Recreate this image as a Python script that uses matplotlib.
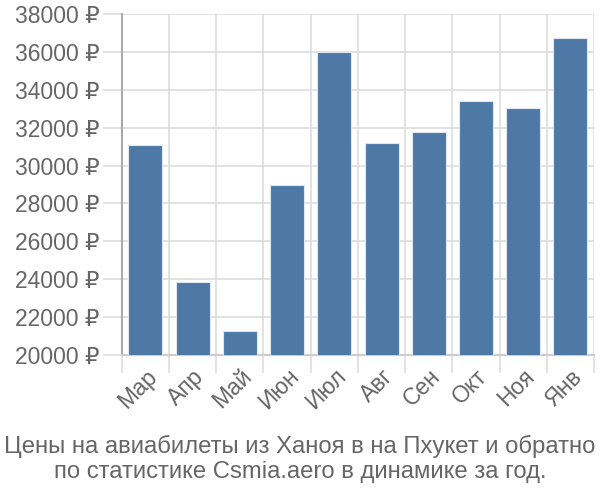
import numpy as np
import matplotlib
matplotlib.use('Agg')
import matplotlib.pyplot as plt

plt.rcParams['font.family'] = ['Liberation Sans', 'DejaVu Sans']

months = ['Мар', 'Апр', 'Май', 'Июн', 'Июл', 'Авг', 'Сен', 'Окт', 'Ноя', 'Янв']
prices = [31100, 23830, 21260, 28970, 36000, 31190, 31750, 33410, 33040, 36730]
yticks = [20000, 22000, 24000, 26000, 28000, 30000, 32000, 34000, 36000, 38000]
title = 'Цены на авиабилеты из Ханоя в на Пхукет и обратно\nпо статистике Csmia.aero в динамике за год.'

fig = plt.figure(figsize=(6, 5), dpi=100)
ax = fig.add_axes([0.203, 0.29, 0.787, 0.682])

x = np.arange(len(months))
ax.bar(x, prices, width=0.72, color='#4e79a7', edgecolor='#dfe6ee', linewidth=0.8, zorder=3)

ax.set_xlim(-0.5, len(months) - 0.5)
ax.set_ylim(20000, 38000)

# сетка
ax.set_yticks(yticks)
ax.set_yticklabels([f'{v} ₽' for v in yticks])
ax.set_xticks(np.arange(len(months) + 1) - 0.5)
ax.set_xticklabels([])
ax.set_xticks(x, minor=True)
ax.set_xticklabels(months, minor=True, rotation=45, ha='right', va='top',
                   rotation_mode='anchor')
ax.grid(True, which='major', color='#dddddd', linewidth=1.2, zorder=0)

ax.tick_params(axis='y', length=14, width=1.2, color='#dddddd', labelsize=16.5,
               labelcolor='#666666', pad=2)
ax.tick_params(axis='x', which='major', length=13, width=1.2, color='#dddddd')
ax.tick_params(axis='x', which='minor', length=0, labelsize=16.5,
               labelcolor='#666666', pad=7)

for s in ['top', 'right']:
    ax.spines[s].set_visible(False)
ax.spines['left'].set_color('#aaaaaa')
ax.spines['left'].set_linewidth(1.5)
ax.spines['left'].set_bounds(20000, 38000)
ax.spines['bottom'].set_color('#cccccc')
ax.spines['bottom'].set_linewidth(1.5)

fig.text(0.5, 0.082, title, ha='center', va='center', fontsize=17.2,
         color='#666666', linespacing=1.2)

fig.savefig('out.png', dpi=100)
